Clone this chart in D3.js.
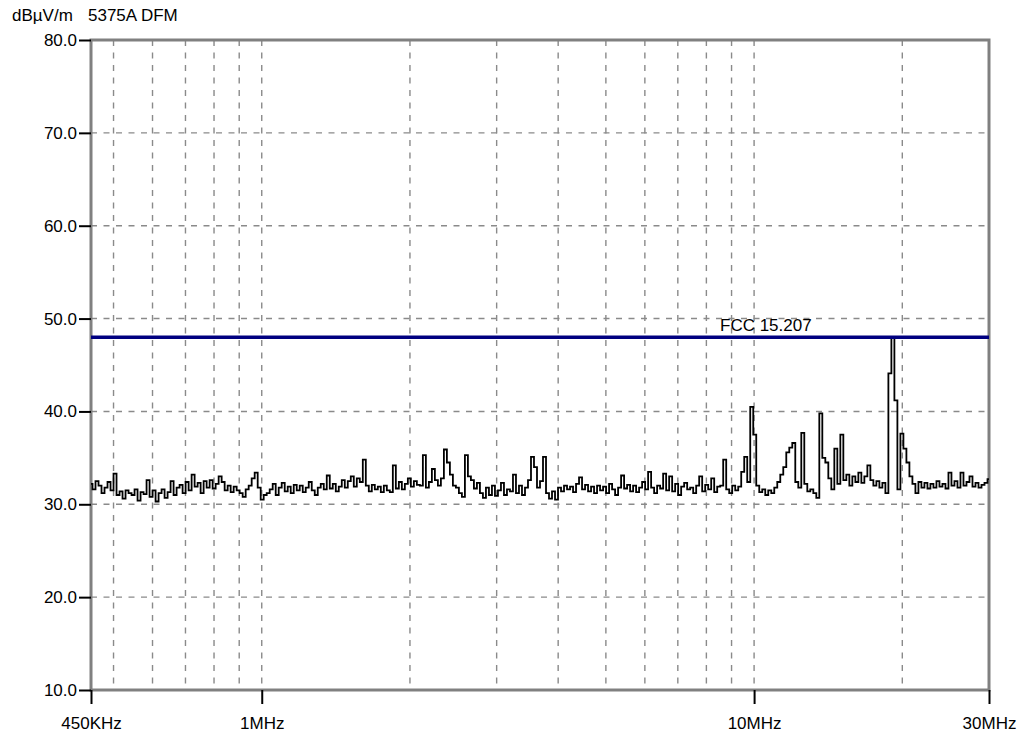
<!DOCTYPE html>
<html>
<head>
<meta charset="utf-8">
<script src="https://cdn.jsdelivr.net/npm/d3@7"></script>
<style>
    body { margin: 0; background: #fff; }
    text { font-family: "Liberation Sans", Arial, sans-serif; font-size: 17px; fill: #000; }
</style>
</head>
<body>
<svg id="chart" width="1019" height="738"></svg>
<script>
// Receiver sweep range
const startFreq = 450e3;
const stopFreq = 30e6;

// Measured level per sweep point, dBuV/m
const levels = [
    32.2, 31.6, 32.5, 32.0, 31.2, 31.8, 32.4, 31.5, 33.3, 31.0,
    31.4, 30.6, 31.5, 31.2, 31.0, 31.6, 30.4, 31.3, 31.1, 32.6,
    30.8, 31.5, 30.3, 31.2, 31.6, 30.7, 31.3, 32.5, 31.0, 31.8,
    32.1, 31.2, 32.4, 31.5, 33.2, 31.9, 32.3, 31.2, 32.5, 31.8,
    32.6, 31.7, 32.2, 33.0, 32.4, 31.5, 32.0, 31.3, 31.9, 31.5,
    31.2, 30.8, 31.6, 32.0, 32.8, 33.4, 31.8, 30.5, 31.0, 31.2,
    31.6, 32.2, 31.0, 31.8, 32.3, 31.4, 31.9, 31.2, 32.1, 31.5,
    32.0, 31.3, 31.8, 32.4, 31.5, 31.0, 31.8, 32.2, 31.6, 33.1,
    31.7, 32.2, 31.4, 31.9, 32.6, 31.8, 32.5, 33.0, 31.9, 32.8,
    32.4, 34.8, 32.0, 31.4, 32.1, 31.6, 31.9, 31.3, 32.0, 31.5,
    31.3, 34.2, 31.7, 32.4, 31.6, 32.2, 32.8, 31.9, 32.5, 32.1,
    32.0, 35.3, 31.8, 32.4, 33.8, 32.6, 32.0, 32.8, 35.9, 34.5,
    33.2, 32.0, 31.8, 31.2, 30.8, 35.3, 33.0, 32.6, 31.7, 32.3,
    31.2, 30.7, 31.8, 31.0, 32.0, 30.9, 31.5, 32.3, 31.0, 31.6,
    31.4, 33.2, 31.2, 32.0, 31.0, 31.8, 32.6, 35.1, 34.0, 31.8,
    32.5, 35.1, 31.2, 30.6, 31.4, 30.5, 31.8, 31.4, 32.0, 31.6,
    31.9, 31.3, 32.2, 32.9, 31.6, 32.1, 31.4, 31.9, 31.2, 32.0,
    31.5, 31.9, 31.2, 32.2, 31.6, 31.0, 31.8, 33.1, 31.7, 32.1,
    31.4, 32.0, 31.3, 31.8, 32.4, 31.6, 33.5, 31.8, 31.2, 32.0,
    31.7, 33.3, 31.5, 33.0, 31.4, 32.2, 31.0, 31.9, 32.3, 31.6,
    31.8, 31.2, 32.0, 33.0, 31.4, 32.1, 31.6, 32.8, 31.3, 31.9,
    32.0, 34.8, 31.6, 31.2, 32.0, 31.5, 31.9, 33.5, 35.1, 32.4,
    40.5, 37.5, 32.0, 31.3, 31.6, 31.0, 31.5, 31.2, 31.8, 32.4,
    33.2, 34.0, 35.6, 36.1, 36.6, 32.4, 31.8, 37.7, 32.2, 31.4,
    31.6, 31.2, 30.7, 39.8, 35.0, 34.5, 32.8, 31.6, 36.0, 32.2,
    37.5, 32.6, 33.2, 32.0, 33.0, 32.4, 33.4, 32.3, 33.0, 34.2,
    32.6, 32.0, 32.5, 31.8, 32.3, 31.2, 44.1, 47.9, 41.2, 31.6,
    37.6, 36.0, 34.5, 33.0, 32.2, 31.2, 32.4, 31.8, 32.3, 31.7,
    32.2, 31.8, 32.5, 31.9, 32.2, 31.7, 33.4, 32.0, 32.5, 31.8,
    33.4, 32.0, 32.4, 33.0, 31.9, 32.3, 31.8, 32.1, 32.3, 32.7
];

// Limit line
const limitName = "FCC 15.207";
const limitLevel = 48.0;

// Axis ticks and grid
const yTicks = [80, 70, 60, 50, 40, 30, 20, 10];
const yGrid = [70, 60, 50, 40, 30, 20];
const xTicks = [450e3, 1e6, 10e6, 30e6];
const xTickLabels = ["450KHz", "1MHz", "10MHz", "30MHz"];
const xGrid = [500e3, 600e3, 700e3, 800e3, 900e3, 1e6, 2e6, 3e6, 4e6, 5e6, 6e6, 7e6, 8e6, 9e6, 10e6, 20e6];

const unitLabel = "dBµV/m";
const titleLabel = "5375A DFM";

let svg = d3.select("#chart");
let plotLeft = 91, plotRight = 989, plotTop = 40, plotBottom = 690;

let x = d3.scaleLog().domain([startFreq, stopFreq]).range([plotLeft, plotRight]);
let y = d3.scaleLinear().domain([10, 80]).range([plotBottom, plotTop]);

// Sweep points are log spaced across the band
let freqs = levels.map((d, i) => startFreq * Math.pow(stopFreq / startFreq, i / (levels.length - 1)));

// Dashed grid
let grid = svg.append("g")
    .attr("stroke", "#8a8a8a")
    .attr("stroke-width", 1.4)
    .attr("stroke-dasharray", "6,6.5");

grid.selectAll(".vgrid")
    .data(xGrid)
    .enter().append("line")
        .attr("x1", d => x(d))
        .attr("x2", d => x(d))
        .attr("y1", plotTop)
        .attr("y2", plotBottom);

grid.selectAll(".hgrid")
    .data(yGrid)
    .enter().append("line")
        .attr("x1", plotLeft)
        .attr("x2", plotRight)
        .attr("y1", d => y(d))
        .attr("y2", d => y(d));

// Frame
svg.append("rect")
    .attr("x", plotLeft)
    .attr("y", plotTop)
    .attr("width", plotRight - plotLeft)
    .attr("height", plotBottom - plotTop)
    .attr("fill", "none")
    .attr("stroke", "#808080")
    .attr("stroke-width", 3);

// Axes
let yAxis = svg.append("g")
    .attr("transform", "translate(" + plotLeft + ",0)")
    .call(d3.axisLeft(y).tickValues(yTicks).tickFormat(d3.format(".1f")).tickSize(12).tickPadding(2));

let xAxis = svg.append("g")
    .attr("transform", "translate(0," + plotBottom + ")")
    .call(d3.axisBottom(x).tickValues(xTicks).tickFormat((d, i) => xTickLabels[i]).tickSize(14).tickPadding(13));

[yAxis, xAxis].forEach(function(a) {
    a.select(".domain").remove();
    a.selectAll(".tick line").attr("stroke", "#000").attr("stroke-width", 2);
    a.selectAll(".tick text")
        .style("font-family", "'Liberation Sans', Arial, sans-serif")
        .style("font-size", "17px")
        .attr("fill", "#000");
});

// Trace
svg.append("path")
    .datum(levels)
    .attr("fill", "none")
    .attr("stroke", "#000")
    .attr("stroke-width", 1.8)
    .attr("d", d3.line()
        .x((d, i) => x(freqs[i]))
        .y(d => y(d))
        .curve(d3.curveStep));

// Limit line and its label
svg.append("line")
    .attr("x1", plotLeft)
    .attr("x2", plotRight)
    .attr("y1", y(limitLevel))
    .attr("y2", y(limitLevel))
    .attr("stroke", "#000080")
    .attr("stroke-width", 3.5);

svg.append("text")
    .attr("x", 720)
    .attr("y", y(limitLevel) - 6)
    .text(limitName);

// Header
svg.append("text").attr("x", 12).attr("y", 21).text(unitLabel);
svg.append("text").attr("x", 88).attr("y", 21).text(titleLabel);
</script>
</body>
</html>
